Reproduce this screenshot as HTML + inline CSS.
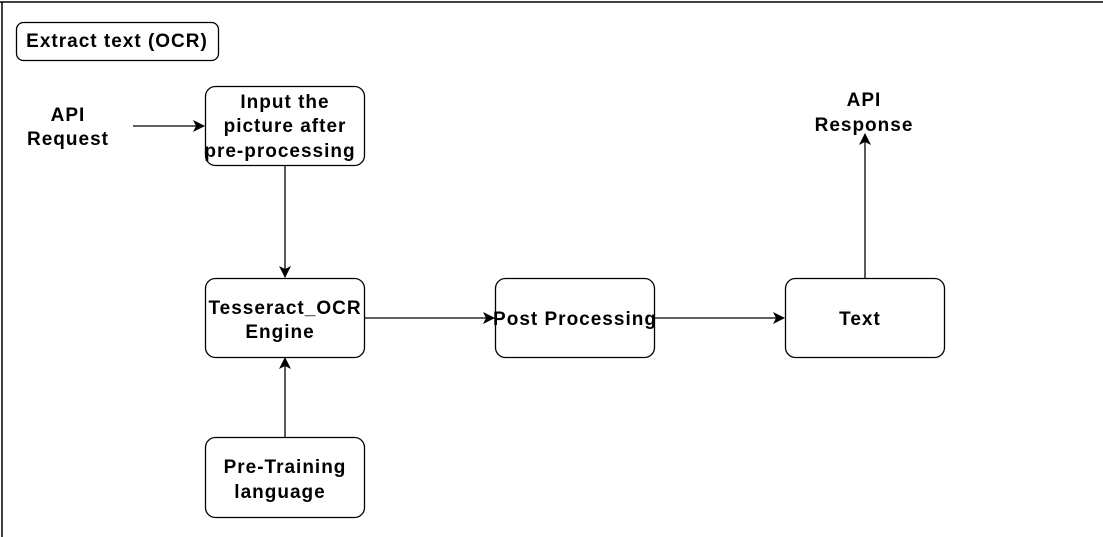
<!DOCTYPE html>
<html><head><meta charset="utf-8"><style>
html,body{margin:0;padding:0;background:#fff;width:1103px;height:537px;overflow:hidden}
text{font-family:"Liberation Sans",sans-serif;font-weight:bold;font-size:19px;letter-spacing:1px;fill:#000}
</style></head><body>
<svg width="1103" height="537" viewBox="0 0 1103 537" xmlns="http://www.w3.org/2000/svg">
<defs><marker id="a" markerWidth="12" markerHeight="12" refX="11" refY="6" orient="auto" markerUnits="userSpaceOnUse"><path d="M0,0 L12,6 L0,12 L3,6 z" fill="#000"/></marker></defs>
<line x1="0" y1="2" x2="1103" y2="2" stroke="#000" stroke-width="1.5"/>
<line x1="2" y1="2" x2="2" y2="537" stroke="#000" stroke-width="1.5"/>
<g fill="#fff" stroke="#000" stroke-width="1.3">
<rect x="16.5" y="22.5" width="202" height="38" rx="7"/>
<rect x="205.5" y="86.5" width="159" height="79" rx="10"/>
<rect x="205.5" y="278.5" width="159" height="79" rx="10"/>
<rect x="205.5" y="437.5" width="159" height="80" rx="10"/>
<rect x="495.5" y="278.5" width="159" height="79" rx="10"/>
<rect x="785.5" y="278.5" width="159" height="79" rx="10"/>
</g>
<g stroke="#000" stroke-width="1.3" marker-end="url(#a)">
<line x1="133" y1="126" x2="204" y2="126"/>
<line x1="285" y1="166" x2="285" y2="277"/>
<line x1="285" y1="437" x2="285" y2="358"/>
<line x1="365" y1="318" x2="494" y2="318"/>
<line x1="655" y1="318" x2="784" y2="318"/>
<line x1="865" y1="278" x2="865" y2="134"/>
</g>
<g text-anchor="middle">
<text x="117" y="47">Extract text (OCR)</text>
<text x="285" y="108">Input the</text>
<text x="285" y="132">picture after</text>
<text x="280" y="157">pre-processing</text>
<text x="68" y="121">API</text>
<text x="68" y="145">Request</text>
<text x="864" y="106">API</text>
<text x="864" y="131">Response</text>
<text x="285" y="314">Tesseract_OCR</text>
<text x="280" y="338">Engine</text>
<text x="575" y="325">Post Processing</text>
<text x="860" y="325">Text</text>
<text x="285" y="473">Pre-Training</text>
<text x="280" y="498">language</text>
</g>
</svg>
</body></html>
